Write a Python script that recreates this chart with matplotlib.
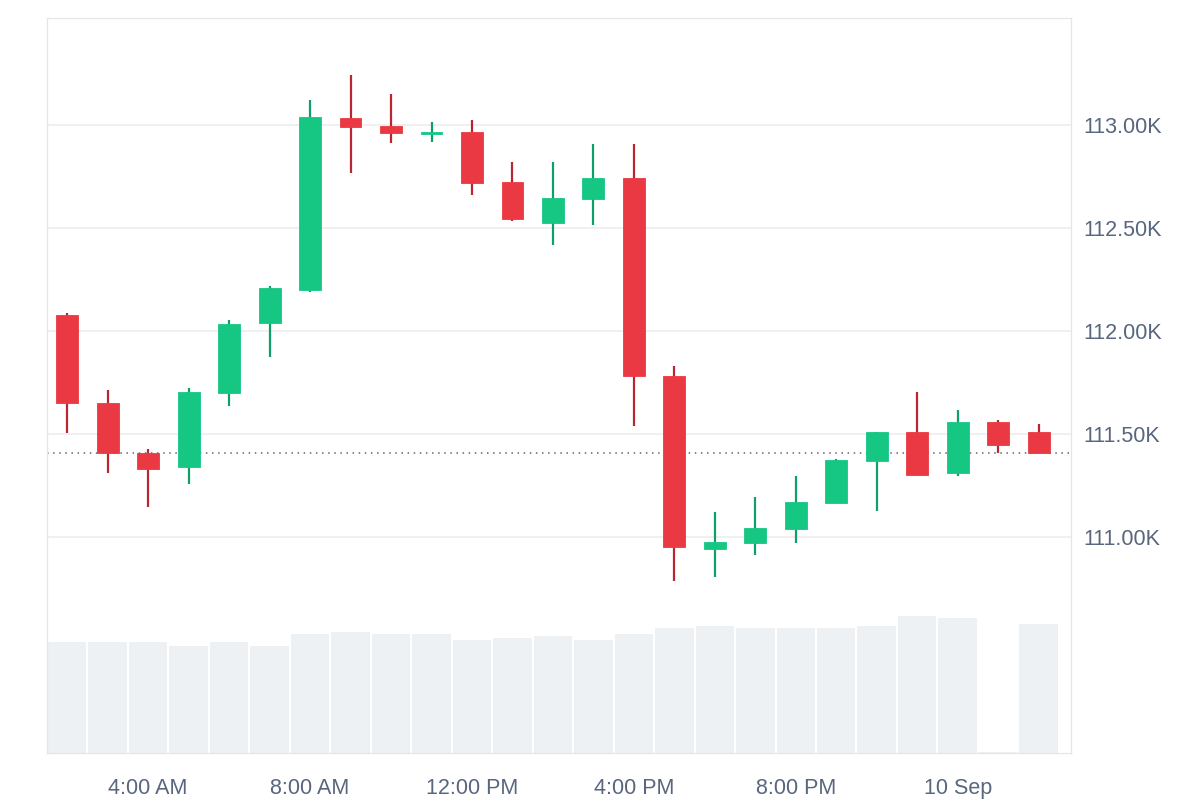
import matplotlib
matplotlib.use('Agg')
import matplotlib.pyplot as plt
from matplotlib.ticker import FuncFormatter

plt.rcParams['font.family'] = ['Liberation Sans', 'DejaVu Sans']

# hourly candles, hour index (2 = 2:00 AM, 24 = midnight 10 Sep)
hours = list(range(2, 27))
opens = [112078, 111651, 111408, 111340, 111699, 112039, 112199, 113034, 112995, 112956,
         112966, 112723, 112524, 112641, 112743, 111782, 110942, 110971, 111039, 111165,
         111369, 111510, 111311, 111558, 111510]
closes = [111651, 111408, 111330, 111704, 112034, 112209, 113039, 112990, 112961, 112966,
          112718, 112544, 112646, 112743, 111782, 110952, 110976, 111044, 111170, 111374,
          111510, 111301, 111558, 111447, 111408]
highs = [112087, 111714, 111427, 111723, 112053, 112218, 113121, 113243, 113150, 113015,
         113024, 112820, 112820, 112908, 112908, 111830, 111121, 111194, 111296, 111379,
         111510, 111704, 111617, 111568, 111549]
lows = [111505, 111311, 111146, 111257, 111636, 111874, 112189, 112767, 112913, 112917,
        112660, 112534, 112418, 112515, 111539, 110787, 110806, 110913, 110971, 111165,
        111126, 111301, 111296, 111408, 111408]
volumes = [111, 111, 111, 107, 111, 107, 119, 121, 119, 119, 113, 115, 117, 113, 119,
           125, 127, 125, 125, 125, 127, 137, 135, 1, 129]
tick_hours = [4, 8, 12, 16, 20, 24]
tick_labels = ['4:00 AM', '8:00 AM', '12:00 PM', '4:00 PM', '8:00 PM', '10 Sep']
price_ticks = [111000, 111500, 112000, 112500, 113000]

green, red = '#16c784', '#ea3943'
green_wick, red_wick = '#0f9f68', '#b8262f'
txt = '#58667e'

fig = plt.figure(figsize=(12, 8), dpi=100)
ax = fig.add_axes([47/1200, 47/800, 1024/1200, 735/800])
vax = ax.twinx()
vax.set_zorder(0)
ax.set_zorder(1)
ax.patch.set_visible(False)

vax.bar(hours, volumes, width=0.95, color='#eef1f4')
vax.set_ylim(0, 735)
vax.set_yticks([])

for h, o, c, hi, lo in zip(hours, opens, closes, highs, lows):
    up = c >= o
    col = green if up else red
    ax.vlines(h, lo, hi, color=green_wick if up else red_wick, lw=1.6, zorder=2)
    ax.bar(h, max(abs(c - o), 8), bottom=min(o, c), width=0.54, color=col,
           edgecolor=col, lw=0.6, zorder=3)

ax.axhline(closes[-1], color='#666666', ls=(0, (1, 3)), lw=1.1, zorder=1.5)
ax.set_xlim(1.5, 26.8)
ax.set_ylim(109952, 113519)
ax.set_yticks(price_ticks)
ax.yaxis.set_major_formatter(FuncFormatter(lambda v, p: f'{v/1000:.2f}K'))
ax.yaxis.tick_right()
ax.set_xticks(tick_hours)
ax.set_xticklabels(tick_labels)
ax.tick_params(length=0, labelsize=15.5, colors=txt)
ax.tick_params(axis='y', pad=9)
ax.tick_params(axis='x', pad=18)
ax.grid(axis='y', color='#eeeeee', lw=1.2)
ax.set_axisbelow(True)
for a in (ax, vax):
    for s in a.spines.values():
        s.set_color('#e6e6e6')

fig.savefig('out.png', dpi=100)
